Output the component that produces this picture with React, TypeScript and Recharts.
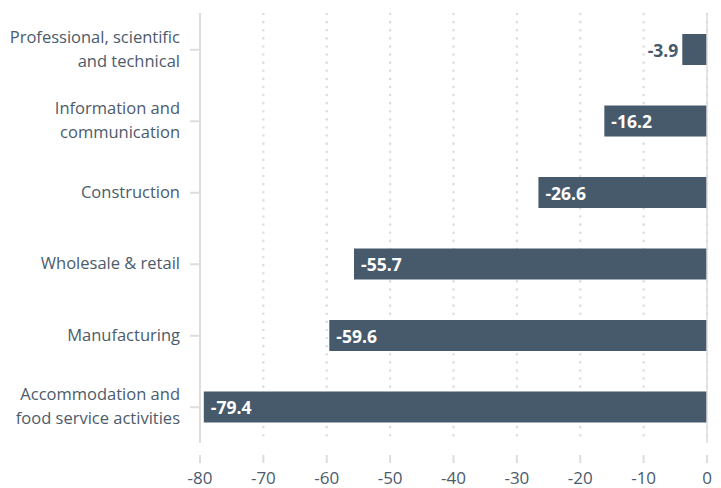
import React from "react";
import {
  BarChart,
  Bar,
  XAxis,
  YAxis,
  CartesianGrid,
  ReferenceLine,
  LabelList,
} from "recharts";

const sectors = [
  "Professional, scientific\nand technical",
  "Information and\ncommunication",
  "Construction",
  "Wholesale & retail",
  "Manufacturing",
  "Accommodation and\nfood service activities",
];
const changes = [-3.9, -16.2, -26.6, -55.7, -59.6, -79.4];
const xTicks = [-80, -70, -60, -50, -40, -30, -20, -10, 0];

const data = sectors.map((sector, i) => ({ sector, value: changes[i] }));

const FONT = "'Open Sans', Lato, sans-serif";
const TEXT = "#4b5b6b";
const BAR = "#475a6b";
const LINE = "#dddddd";

function SectorTick({ x, y, payload }: any) {
  const lines = String(payload.value).split("\n");
  const start = y - 2 - ((lines.length - 1) * 24) / 2;
  return (
    <g>
      <line x1={x - 10} x2={x} y1={y} y2={y} stroke={LINE} strokeWidth={2} />
      <text
        x={x - 20}
        y={start}
        textAnchor="end"
        dominantBaseline="central"
        fill={TEXT}
        fontSize={16.5}
        fontFamily={FONT}
      >
        {lines.map((l, i) => (
          <tspan key={i} x={x - 20} dy={i === 0 ? 0 : 24}>
            {l}
          </tspan>
        ))}
      </text>
    </g>
  );
}

function ValueTick({ x, y, payload }: any) {
  return (
    <g>
      <line x1={x} x2={x} y1={y + 12} y2={y + 20} stroke={LINE} strokeWidth={2} />
      <text
        x={x}
        y={y + 34}
        textAnchor="middle"
        dominantBaseline="central"
        fill={TEXT}
        fontSize={17}
        fontFamily={FONT}
      >
        {payload.value}
      </text>
    </g>
  );
}

function BarValue({ x, y, width, height, value }: any) {
  const w = Math.abs(width);
  const left = width < 0 ? x + width : x;
  const inside = w > 40;
  return (
    <text
      x={inside ? left + 7 : left - 4}
      y={y + height / 2}
      textAnchor={inside ? "start" : "end"}
      dominantBaseline="central"
      fill={inside ? "#ffffff" : BAR}
      fontSize={17.5}
      fontWeight={700}
      fontFamily={FONT}
    >
      {value}
    </text>
  );
}

export default function App() {
  return (
    <div style={{ position: "absolute", left: 0, top: 0 }}>
      <BarChart
        width={721}
        height={488}
        data={data}
        layout="vertical"
        margin={{ top: 14, right: 14, bottom: 0, left: 0 }}
      >
        <CartesianGrid
          horizontal={false}
          stroke={LINE}
          strokeWidth={2.5}
          strokeDasharray="0.1 8"
          strokeLinecap="round"
        />
        <XAxis
          type="number"
          domain={[-80, 0]}
          ticks={xTicks}
          axisLine={false}
          tickLine={false}
          tickSize={0}
          tickMargin={0}
          height={45}
          tick={<ValueTick />}
        />
        <YAxis
          type="category"
          dataKey="sector"
          width={200}
          axisLine={{ stroke: LINE, strokeWidth: 2 }}
          tickLine={false}
          tickSize={0}
          tickMargin={0}
          tick={<SectorTick />}
          interval={0}
        />
        <ReferenceLine x={0} stroke={LINE} strokeWidth={1.5} />
        <Bar dataKey="value" fill={BAR} barSize={31} isAnimationActive={false}>
          <LabelList dataKey="value" content={<BarValue />} />
        </Bar>
      </BarChart>
    </div>
  );
}
